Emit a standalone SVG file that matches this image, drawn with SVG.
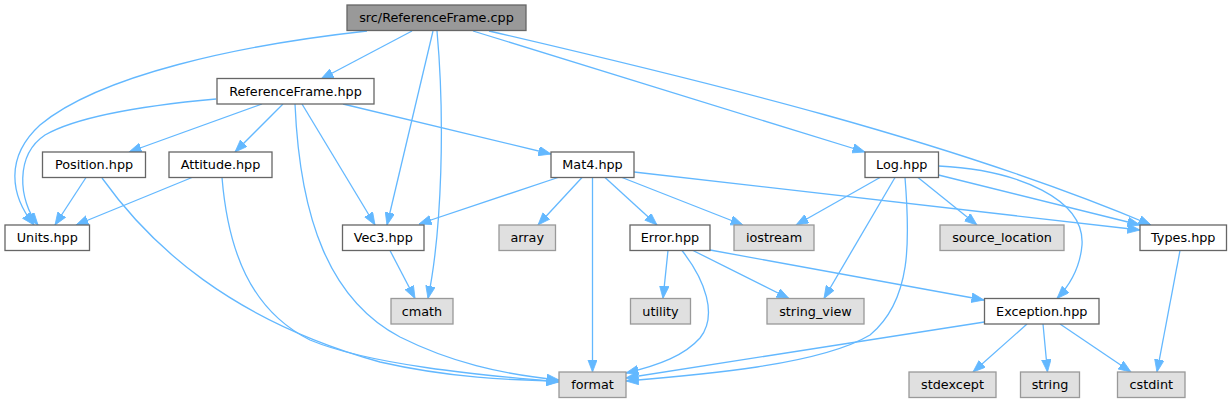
<svg xmlns="http://www.w3.org/2000/svg" width="1232" height="403" viewBox="0 0 1232 403">
<style>
.n rect{fill:#ffffff;stroke:#666666;stroke-width:1.3}
.root rect{fill:#999999;stroke:#666666;stroke-width:1.3}
.sys rect{fill:#e0e0e0;stroke:#999999;stroke-width:1.3}
text{font-family:"DejaVu Sans","Liberation Sans",sans-serif;font-size:12.8px;fill:#000000;text-anchor:middle}
#edges path{fill:none;stroke:#63b8ff;stroke-width:1.3;marker-end:url(#ah)}
</style>
<defs>
<marker id="ah" markerUnits="userSpaceOnUse" markerWidth="13" markerHeight="10" refX="12.5" refY="4.75" orient="auto">
<path d="M0,0 L12.5,4.75 L0,9.5 z" fill="#63b8ff" stroke="#63b8ff" stroke-width="0.8"/>
</marker>
</defs>
<rect width="1232" height="403" fill="#ffffff"/>
<g id="edges">
<path d="M367,31 C240,45 100,75 40,125 C5,157 10,195 34,225"/>
<path d="M412,31 L321,79"/>
<path d="M433,31 L387,225"/>
<path d="M437,31 C445,120 442,230 428,298.5"/>
<path d="M473,31 L865,152"/>
<path d="M489,31 C700,80 950,140 1151,225"/>
<path d="M216,99 C150,105 80,115 45,135 C15,155 18,200 38,225"/>
<path d="M262,104 L129,152"/>
<path d="M283,104 L235,152"/>
<path d="M295,104 C300,220 330,300 400,337 C450,362 500,374 559,380"/>
<path d="M302,104 L375,225"/>
<path d="M343,104 L551,154"/>
<path d="M86,177.5 L55,225"/>
<path d="M102,178 C150,245 230,320 380,362 C450,378 510,380 559,381"/>
<path d="M192,177.5 L76,225"/>
<path d="M222,177.5 C228,250 250,310 310,340 C370,365 480,375 559,382"/>
<path d="M558,177.5 L419,224"/>
<path d="M582,177.5 L538,225"/>
<path d="M592.5,177.5 L592.5,372"/>
<path d="M605,177.5 L657,225"/>
<path d="M622,177.5 L743,225"/>
<path d="M634,172 L1140,230"/>
<path d="M390,250.5 L415,298.5"/>
<path d="M880,177.5 L796,225"/>
<path d="M918,177.5 L977,225"/>
<path d="M938.5,175 L1140,225"/>
<path d="M895,177.5 L824,298.5"/>
<path d="M905,177.5 C910,240 912,300 870,335 C820,365 700,375 626,381"/>
<path d="M938.5,166 C1020,170 1085,200 1082,245 C1080,268 1070,285 1057,298.5"/>
<path d="M668,250.5 L663,298.5"/>
<path d="M682,250.5 C705,280 718,315 700,338 C685,355 660,365 626,373"/>
<path d="M693,250.5 L789,298.5"/>
<path d="M710,250 L984,300"/>
<path d="M984.5,322 L626,378"/>
<path d="M1027,324 L973,372"/>
<path d="M1043,324 L1047.5,372"/>
<path d="M1060,324 L1131,372"/>
<path d="M1180,250.5 L1157,372"/>
</g>
<g id="node_cpp" class="root"><rect x="347" y="5" width="179" height="25.5"/><text x="436.5" y="22.3">src/ReferenceFrame.cpp</text></g>
<g id="node_rf" class="n"><rect x="217" y="78.5" width="157" height="25.5"/><text x="295.5" y="95.8">ReferenceFrame.hpp</text></g>
<g id="node_position" class="n"><rect x="42.5" y="152" width="103" height="25.5"/><text x="94" y="169.3">Position.hpp</text></g>
<g id="node_attitude" class="n"><rect x="169" y="152" width="103" height="25.5"/><text x="220.5" y="169.3">Attitude.hpp</text></g>
<g id="node_mat4" class="n"><rect x="551" y="152" width="83" height="25.5"/><text x="592.5" y="169.3">Mat4.hpp</text></g>
<g id="node_log" class="n"><rect x="865" y="152" width="73.5" height="25.5"/><text x="901.75" y="169.3">Log.hpp</text></g>
<g id="node_units" class="n"><rect x="5" y="225" width="84.5" height="25.5"/><text x="47.25" y="242.3">Units.hpp</text></g>
<g id="node_vec3" class="n"><rect x="342.5" y="225" width="81.5" height="25.5"/><text x="383.25" y="242.3">Vec3.hpp</text></g>
<g id="node_array" class="sys"><rect x="499" y="225" width="56.5" height="25.5"/><text x="527.25" y="242.3">array</text></g>
<g id="node_error" class="n"><rect x="630" y="225" width="80" height="25.5"/><text x="670" y="242.3">Error.hpp</text></g>
<g id="node_iostream" class="sys"><rect x="734" y="225" width="80" height="25.5"/><text x="774" y="242.3">iostream</text></g>
<g id="node_source_location" class="sys"><rect x="940" y="225" width="124" height="25.5"/><text x="1002" y="242.3">source_location</text></g>
<g id="node_types" class="n"><rect x="1140" y="225" width="86.5" height="25.5"/><text x="1183.25" y="242.3">Types.hpp</text></g>
<g id="node_cmath" class="sys"><rect x="391" y="298.5" width="62" height="25.5"/><text x="422" y="315.8">cmath</text></g>
<g id="node_utility" class="sys"><rect x="630.5" y="298.5" width="60" height="25.5"/><text x="660.5" y="315.8">utility</text></g>
<g id="node_string_view" class="sys"><rect x="767" y="298.5" width="97" height="25.5"/><text x="815.5" y="315.8">string_view</text></g>
<g id="node_exception" class="n"><rect x="984.5" y="298.5" width="114.5" height="25.5"/><text x="1041.75" y="315.8">Exception.hpp</text></g>
<g id="node_format" class="sys"><rect x="559" y="372" width="67" height="25.5"/><text x="592.5" y="389.3">format</text></g>
<g id="node_stdexcept" class="sys"><rect x="909" y="372" width="87" height="25.5"/><text x="952.5" y="389.3">stdexcept</text></g>
<g id="node_string" class="sys"><rect x="1020.5" y="372" width="59" height="25.5"/><text x="1050" y="389.3">string</text></g>
<g id="node_cstdint" class="sys"><rect x="1117.5" y="372" width="67.5" height="25.5"/><text x="1151.25" y="389.3">cstdint</text></g>
</svg>
